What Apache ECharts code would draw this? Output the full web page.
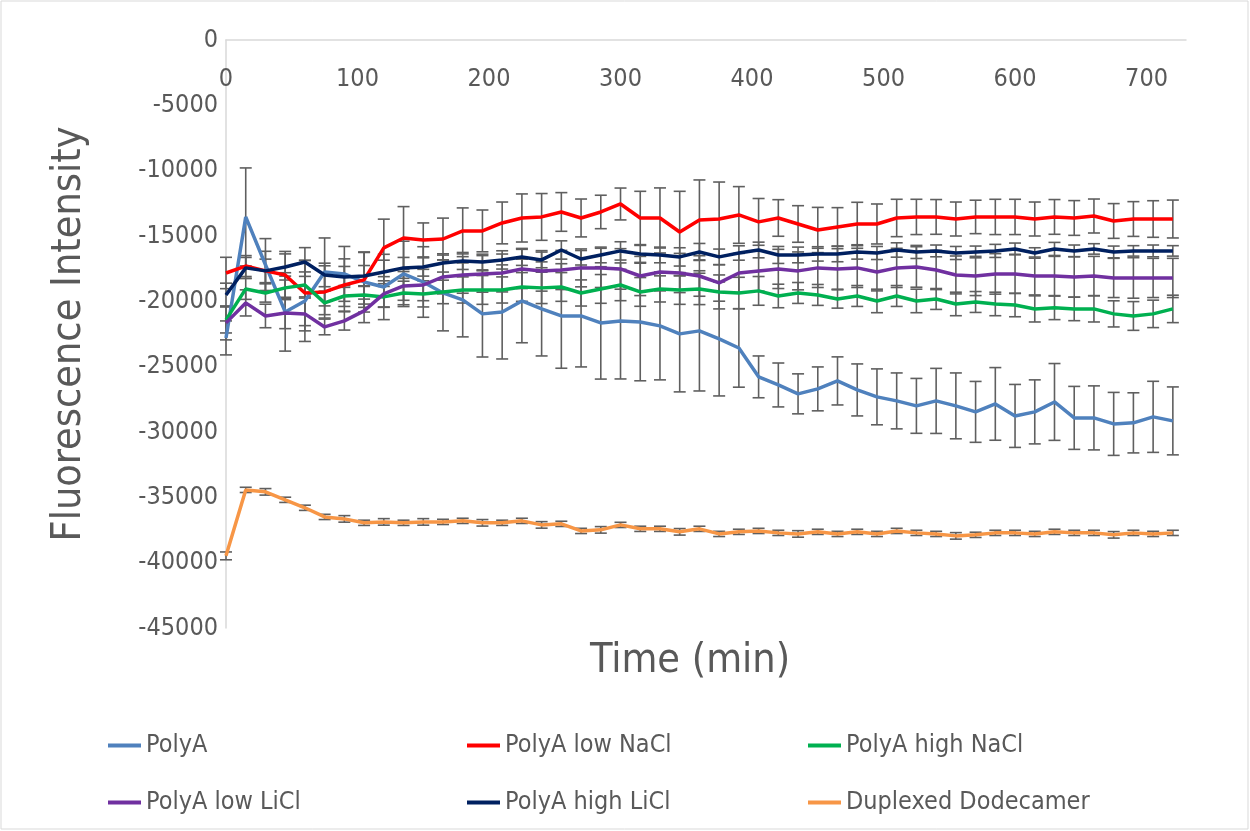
<!DOCTYPE html>
<html lang="en">
<head>
    <meta charset="UTF-8">
    <title>Fluorescence Intensity vs Time</title>
    <script src="https://cdn.jsdelivr.net/npm/echarts@6/dist/echarts.min.js"></script>
    <style>
        html, body { margin: 0; padding: 0; background: #fff; }
    </style>
</head>
<body>
<div id="main" style="width: 1250px;height:831px;"></div>

<script type="text/javascript">
    // time points (min)
    const times = [0, 15, 30, 45, 60, 75, 90, 105, 120, 135, 150, 165, 180, 195, 210, 225, 240,
        255, 270, 285, 300, 315, 330, 345, 360, 375, 390, 405, 420, 435, 450, 465, 480, 495,
        510, 525, 540, 555, 570, 585, 600, 615, 630, 645, 660, 675, 690, 705, 720]

    const polyA = [-22800, -13540, -17200, -20810, -19970, -17750, -17900, -18520, -18900, -17900,
        -18520, -19360, -19890, -20960, -20810, -19970, -20580, -21120, -21120, -21650, -21500,
        -21580, -21880, -22490, -22260, -22880, -23570, -25780, -26400, -27080, -26700, -26090,
        -26780, -27310, -27620, -28000, -27620, -28000, -28460, -27850, -28770, -28460, -27700,
        -28920, -28920, -29380, -29300, -28840, -29150]
    const polyAErr = [1300, 3750, 2000, 3000, 3100, 2600, 2100, 2300, 2500, 2500, 2700, 2900,
        2830, 3300, 3600, 3200, 3600, 4000, 3900, 4300, 4440, 4500, 4130, 4440, 4600, 4360, 3000,
        1600, 1680, 1530, 1680, 1840, 1990, 2140, 2140, 2100, 2490, 2520, 2330, 2780, 2410, 2450,
        2940, 2410, 2450, 2410, 2300, 2720, 2600]

    const lowNaCl = [-17830, -17300, -17670, -17980, -19360, -19280, -18750, -18360, -15910, -15150,
        -15300, -15230, -14610, -14610, -14000, -13620, -13540, -13160, -13620, -13160, -12550,
        -13620, -13620, -14690, -13770, -13700, -13390, -13920, -13620, -14080, -14540, -14310,
        -14080, -14080, -13620, -13540, -13540, -13700, -13540, -13540, -13540, -13700, -13540,
        -13620, -13470, -13850, -13700, -13700, -13700]
    const lowNaClErr = [1200, 800, 1500, 1800, 2500, 2000, 2000, 2100, 2200, 2400, 1300, 1600,
        1760, 1600, 1600, 1840, 1790, 1480, 1450, 1280, 1220, 2040, 2300, 3110, 3060, 2830, 2170,
        1790, 1400, 1400, 1730, 1480, 1660, 1530, 1430, 1350, 1330, 1300, 1280, 1350, 1350, 1300,
        1330, 1330, 1300, 1330, 1330, 1400, 1450]

    const highNaCl = [-21420, -19050, -19360, -18970, -18750, -20120, -19590, -19510, -19660, -19360,
        -19430, -19280, -19130, -19130, -19130, -18900, -18970, -18900, -19360, -19050, -18750,
        -19280, -19050, -19130, -19050, -19280, -19360, -19200, -19590, -19360, -19510, -19820,
        -19590, -19970, -19590, -19970, -19820, -20200, -20050, -20200, -20280, -20580, -20500,
        -20580, -20580, -20960, -21120, -20960, -20580]
    const highNaClErr = [1000, 800, 700, 900, 1000, 900, 800, 700, 800, 900, 1000, 900, 1000,
        1100, 1000, 1100, 1200, 1100, 1000, 1100, 1200, 1100, 1000, 1100, 1200, 1300, 1200, 1100,
        900, 800, 800, 700, 800, 900, 800, 900, 800, 900, 800, 900, 900, 1000, 900, 900, 1000,
        1000, 1100, 1050, 1050]

    const lowLiCl = [-21650, -20120, -21120, -20890, -20960, -21960, -21500, -20730, -19430, -18820,
        -18750, -18130, -17980, -17900, -17830, -17520, -17670, -17600, -17440, -17440, -17520,
        -18060, -17750, -17830, -18060, -18590, -17830, -17670, -17520, -17670, -17440, -17520,
        -17440, -17750, -17440, -17370, -17600, -17980, -18060, -17900, -17900, -18060, -18060,
        -18130, -18060, -18210, -18210, -18210, -18210]
    const lowLiClErr = [1300, 1000, 900, 1200, 1300, 600, 700, 900, 1000, 1100, 1200, 1300, 1400,
        1400, 1450, 1500, 1550, 1500, 1450, 1500, 1550, 1500, 1450, 1500, 1550, 1400, 1500, 1550,
        1500, 1450, 1500, 1550, 1500, 1450, 1500, 1550, 1500, 1450, 1500, 1550, 1500, 1450, 1500,
        1550, 1500, 1500, 1550, 1500, 1500]

    const highLiCl = [-19510, -17440, -17670, -17370, -16990, -17980, -18130, -18060, -17750, -17440,
        -17370, -17060, -16910, -16990, -16830, -16600, -16830, -16070, -16760, -16450, -16140,
        -16370, -16450, -16600, -16220, -16600, -16300, -16070, -16450, -16450, -16370, -16370,
        -16220, -16300, -16070, -16220, -16140, -16300, -16220, -16140, -15990, -16300, -15990,
        -16140, -15990, -16220, -16140, -16140, -16140]
    const highLiClErr = [900, 800, 900, 1000, 1100, 900, 800, 800, 900, 800, 700, 700, 650, 600,
        700, 650, 600, 700, 650, 600, 700, 650, 600, 700, 650, 600, 550, 600, 650, 600, 550, 600,
        550, 500, 550, 500, 450, 500, 450, 500, 450, 400, 500, 450, 400, 450, 400, 450, 400]

    const dodecamer = [-39480, -34430, -34580, -35190, -35800, -36500, -36650, -36950, -36880, -36950,
        -36880, -36880, -36800, -36950, -36950, -36800, -37110, -37030, -37570, -37490, -37110,
        -37410, -37410, -37640, -37410, -37800, -37640, -37570, -37720, -37800, -37640, -37800,
        -37640, -37800, -37570, -37720, -37800, -37950, -37870, -37720, -37720, -37800, -37640,
        -37720, -37720, -37870, -37720, -37800, -37720]
    const dodecamerErr = [300, 200, 250, 200, 200, 200, 250, 200, 250, 200, 250, 200, 200, 250,
        200, 200, 250, 200, 200, 250, 200, 200, 200, 250, 200, 200, 200, 200, 200, 250, 200, 200,
        200, 200, 200, 200, 200, 250, 200, 200, 200, 200, 200, 200, 200, 250, 200, 200, 200]

    const seriesNames = ['PolyA', 'PolyA low NaCl', 'PolyA high NaCl', 'PolyA low LiCl',
        'PolyA high LiCl', 'Duplexed Dodecamer']
    const seriesColors = ['#4F81BD', '#FF0000', '#00B050', '#7030A0', '#002060', '#F79646']
    const seriesValues = [polyA, lowNaCl, highNaCl, lowLiCl, highLiCl, dodecamer]
    const seriesErrors = [polyAErr, lowNaClErr, highNaClErr, lowLiClErr, highLiClErr, dodecamerErr]
</script>

<script type="text/javascript">
    const myChart = echarts.init(document.getElementById('main'))
    const font = "'Liberation Sans Narrow', 'DejaVu Sans Condensed', 'Liberation Sans', sans-serif"
    const textColor = '#595959'

    // error bar: vertical line with caps
    function renderErrorBar(params, api) {
        const top = api.coord([api.value(0), api.value(2)])
        const bottom = api.coord([api.value(0), api.value(1)])
        const half = 6
        const style = {stroke: '#5f5f5f', lineWidth: 1.6}
        return {
            type: 'group',
            children: [
                {type: 'line', shape: {x1: top[0], y1: top[1], x2: bottom[0], y2: bottom[1]}, style: style},
                {type: 'line', shape: {x1: top[0] - half, y1: top[1], x2: top[0] + half, y2: top[1]}, style: style},
                {type: 'line', shape: {x1: bottom[0] - half, y1: bottom[1], x2: bottom[0] + half, y2: bottom[1]}, style: style}
            ]
        }
    }

    const series = []
    seriesNames.forEach(function (name, k) {
        const vals = seriesValues[k]
        const errs = seriesErrors[k]
        series.push({
            name: name + ' error',
            type: 'custom',
            renderItem: renderErrorBar,
            data: times.map((t, i) => [t, vals[i] - errs[i], vals[i] + errs[i]]),
            encode: {x: 0, y: [1, 2]},
            z: 1,
            silent: true
        })
    })
    seriesNames.forEach(function (name, k) {
        series.push({
            name: name,
            type: 'line',
            data: times.map((t, i) => [t, seriesValues[k][i]]),
            symbol: 'none',
            color: seriesColors[k],
            itemStyle: {color: seriesColors[k]},
            lineStyle: {color: seriesColors[k], width: 3.5},
            z: 3
        })
    })

    // legend positions, two rows of three
    const legendPos = [[103, 728], [462, 728], [803, 728], [103, 785], [462, 785], [803, 785]]
    const legends = seriesNames.map(function (name, k) {
        return {
            data: [name],
            left: legendPos[k][0],
            top: legendPos[k][1],
            icon: 'rect',
            itemWidth: 33,
            itemHeight: 4,
            itemGap: 0,
            selectedMode: false,
            textStyle: {fontSize: 25, color: textColor, fontFamily: font}
        }
    })

    const option = {
        animation: false,
        backgroundColor: '#fff',
        grid: {left: 226, right: 64, top: 40, bottom: 203},
        legend: legends,
        xAxis: {
            type: 'value',
            position: 'top',
            min: 0,
            max: 730,
            interval: 100,
            axisLine: {show: true, onZero: false, lineStyle: {color: '#d9d9d9', width: 1.5}},
            axisTick: {show: false},
            splitLine: {show: false},
            axisLabel: {
                inside: true,
                margin: 27,
                showMaxLabel: false,
                fontSize: 25,
                color: textColor,
                fontFamily: font
            }
        },
        yAxis: {
            type: 'value',
            min: -45000,
            max: 0,
            interval: 5000,
            name: 'Fluorescence Intensity',
            nameLocation: 'middle',
            nameGap: 136,
            nameTextStyle: {fontSize: 41, color: textColor, fontFamily: font},
            axisLine: {show: true, lineStyle: {color: '#d9d9d9', width: 1.5}},
            axisTick: {show: false},
            splitLine: {show: false},
            axisLabel: {
                fontSize: 25,
                color: textColor,
                fontFamily: font,
                margin: 8,
                formatter: function (v) { return String(v) }
            }
        },
        graphic: [
            {
                type: 'rect',
                shape: {x: 1, y: 1, width: 1247, height: 828},
                style: {fill: 'none', stroke: '#d9d9d9', lineWidth: 1}
            },
            {
                type: 'text',
                x: 690,
                y: 661,
                style: {
                    text: 'Time (min)',
                    fontSize: 41,
                    fill: textColor,
                    fontFamily: font,
                    align: 'center',
                    verticalAlign: 'middle'
                }
            }
        ],
        series: series
    }

    myChart.setOption(option)
</script>
</body>
</html>
